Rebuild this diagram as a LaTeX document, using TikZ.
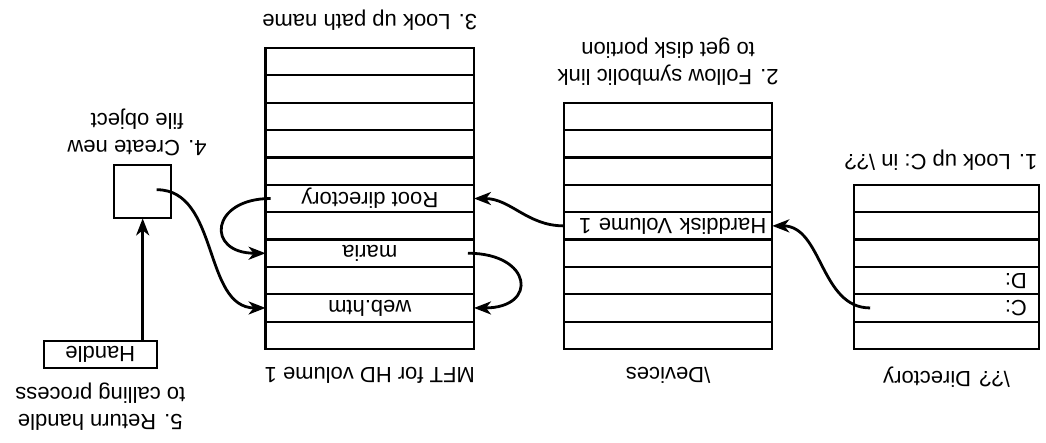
\documentclass[tikz,border=0pt]{standalone}
\usepackage{fontspec}
\setmainfont{Liberation Sans}
\usetikzlibrary{arrows.meta,positioning,calc}

\begin{document}
\begin{tikzpicture}[
x=0.5pt, y=0.5pt, rotate=180, transform shape,
every node/.style={font=\fontsize{11}{13.5}\selectfont},
cell/.style={draw, line width=1.1pt, inner sep=0pt, outer sep=0pt, minimum height=13.68pt},
dircell/.style={cell, text width=80.4pt, inner xsep=6pt, align=left},
devcell/.style={cell, text width=98.2pt, inner xsep=3pt, align=left},
mftcell/.style={cell, minimum width=104.2pt},
box/.style={draw, line width=1.1pt, inner sep=0pt, outer sep=0pt},
lbl/.style={align=center, inner sep=0pt},
arr/.style={-{Stealth[length=8.5pt,width=6.5pt,inset=2.5pt]}, line width=1.4pt}
]
\useasboundingbox (0,0) rectangle (1046,443);

% \?? directory
\foreach \t [count=\i] in {{},C:,D:,{},{},{}}
  \node[dircell, anchor=north west] (dir\i) at (7,{349-(\i-1)*27.36}) {\t};
\node[lbl, above=9pt of dir1] (dirname) {\textbackslash?? Directory};
\node[lbl, below=7.2pt of dir6, xshift=2.8pt] (step1) {1. Look up C: in \textbackslash??};

% \Devices
\foreach \t [count=\i] in {{},{},{},{},Harddisk Volume 1,{},{},{},{}}
  \node[devcell, anchor=north west] (dev\i) at (273.7,{349-(\i-1)*27.36}) {\t};
\node[lbl, above=9pt of dev1] (devname) {\textbackslash Devices};
\node[lbl, below=8.5pt of dev9] (step2) {2. Follow symbolic link\\to get disk portion};

% MFT for the volume
\foreach \t [count=\i] in {{},web.htm,{},maria,{},Root directory,{},{},{},{},{}}
  \node[mftcell, anchor=north west] (mft\i) at (572,{349-(\i-1)*27.36}) {\t};
\node[lbl, above=9pt of mft1] (mftname) {MFT for HD volume 1};
\node[lbl, below=8.8pt of mft11] (step3) {3. Look up path name};

% file object and handle
\node[box, minimum width=28.4pt, minimum height=26.7pt] (obj) at (903.3,191.7) {};
\node[lbl, below=4.6pt of obj, xshift=2.8pt] (step4) {4. Create new\\file object};
\node[box, minimum width=56.4pt, minimum height=13.8pt] (handle) at (945.7,354.5) {Handle};
\node[lbl, above=7.2pt of handle] (step5) {5. Return handle\\to calling process};

% lookup steps
\draw[arr] ($(dir2.east)+(-16,0)$) to[out=0, in=180] (dev5.west);
\draw[arr] (dev5.east) to[out=0, in=180] (mft6.west);
\draw[arr] ($(mft6.east)+(-5,0)$) to[out=0, in=0, looseness=2.8] (mft4.east);
\draw[arr] ($(mft4.west)+(6,0)$) to[out=180, in=180, looseness=3] (mft2.west);
\draw[arr] ($(obj.center)+(-14,-2)$) to[out=180, in=0] (mft2.east);
\draw[arr] (handle.south -| obj.north) -- (obj.north);
\end{tikzpicture}
\end{document}
